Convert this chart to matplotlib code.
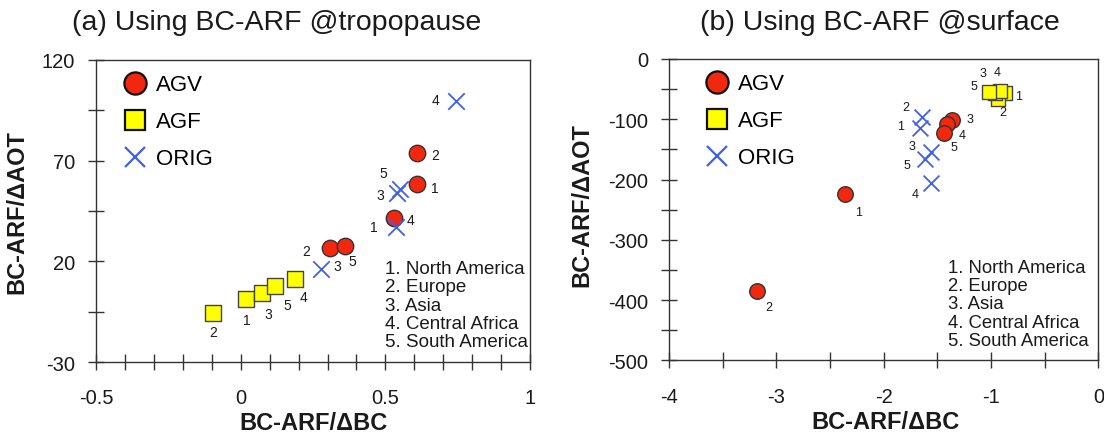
import matplotlib
matplotlib.use("Agg")
import matplotlib.pyplot as plt
from matplotlib.lines import Line2D
from matplotlib.ticker import MultipleLocator

plt.rcParams['font.family'] = ['Liberation Sans', 'DejaVu Sans']
plt.rcParams['axes.unicode_minus'] = False

regions = ['1', '2', '3', '4', '5']
region_names = ['1. North America', '2. Europe', '3. Asia',
                '4. Central Africa', '5. South America']

# (a) BC-ARF at the tropopause
trop_agv_x = [0.609, 0.609, 0.310, 0.529, 0.359]
trop_agv_y = [58.6, 73.7, 26.5, 41.7, 27.6]
trop_agf_x = [0.017, -0.097, 0.075, 0.186, 0.118]
trop_agf_y = [1.5, -5.8, 4.3, 11.1, 7.6]
trop_orig_x = [0.537, 0.279, 0.540, 0.745, 0.552]
trop_orig_y = [37.2, 16.0, 54.1, 99.6, 56.1]

# (b) BC-ARF at the surface
surf_agv_x = [-2.357, -3.184, -1.361, -1.411, -1.442]
surf_agv_y = [-224, -385, -101, -107, -122]
surf_agf_x = [-0.874, -0.940, -0.967, -0.921, -1.023]
surf_agf_y = [-57, -66, -56, -53, -55]
surf_orig_x = [-1.659, -1.644, -1.556, -1.556, -1.619]
surf_orig_y = [-115, -96, -154, -206, -166]

# label offsets (pixels) for the region numbers next to each marker
trop_agv_off = [(18, -4), (18, -2), (7, -18), (17, -2), (8, -15)]
trop_agf_off = [(1, -21), (1, -19), (6, -21), (9, -18), (12, -19)]
trop_orig_off = [(-22, 0), (-15, 18), (-17, -2), (-21, 1), (-17, 16)]
surf_agv_off = [(13, -18), (12, -16), (18, 1), (15, -11), (10, -14)]
surf_agf_off = [(14, -3), (5, -13), (-12, 20), (-2, 19), (-15, 6)]
surf_orig_off = [(-20, 2), (-16, 10), (-19, 6), (-16, -11), (-18, -6)]

RED = '#f2270f'
YEL = '#ffff00'
BLUE = '#4060e8'
TXT = '#1a1a1a'

fig = plt.figure(figsize=(11.04, 4.35), dpi=100)
ax1 = fig.add_axes([0.0870, 0.1655, 0.3931, 0.6943])
ax2 = fig.add_axes([0.6060, 0.1690, 0.3890, 0.6931])


def draw_panel(ax, agv, agf, orig, offs, msize, lsize, leg_x):
    ax.scatter(agf[0], agf[1], s=msize[1], marker='s', c=YEL,
               edgecolors='#444444', linewidths=1.0, zorder=3)
    ax.scatter(agv[0], agv[1], s=msize[0], marker='o', c=RED,
               edgecolors='#333333', linewidths=1.0, zorder=4)
    ax.scatter(orig[0], orig[1], s=msize[2], marker='x', c=BLUE,
               linewidths=1.3, zorder=5)
    for (xs, ys), off in zip([agv, agf, orig], offs):
        for x, y, lab, o in zip(xs, ys, regions, off):
            ax.annotate(lab, (x, y), xytext=o, textcoords='offset pixels',
                        ha='center', va='center', fontsize=lsize,
                        color=TXT, zorder=6)

    handles = [
        Line2D([], [], ls='', marker='o', ms=16, mfc=RED, mec='#111111', mew=1.6),
        Line2D([], [], ls='', marker='s', ms=15, mfc=YEL, mec='#111111', mew=1.6),
        Line2D([], [], ls='', marker='x', ms=15, mec=BLUE, mew=1.6),
    ]
    ax.legend(handles, ['AGV', 'AGF', 'ORIG'], loc='upper left',
              bbox_to_anchor=(leg_x, 1.0), frameon=False, fontsize=16,
              handlelength=1.6, handletextpad=0.15, labelspacing=0.72,
              borderaxespad=0.25)

    ax.tick_params(which='both', direction='inout', top=False, right=False,
                   color='#333333', labelcolor=TXT, labelsize=14.5)
    ax.tick_params(which='both', length=12, width=1.0)
    ax.tick_params(axis='y', pad=9)
    ax.tick_params(axis='x', pad=13)
    for sp in ax.spines.values():
        sp.set_color('#333333')
        sp.set_linewidth(1.0)
    ax.set_xlabel('BC-ARF/ΔBC', fontsize=17, fontweight='bold', color=TXT)
    ax.set_ylabel('BC-ARF/ΔAOT', fontsize=17, fontweight='bold', color=TXT)


draw_panel(ax1, (trop_agv_x, trop_agv_y), (trop_agf_x, trop_agf_y),
           (trop_orig_x, trop_orig_y),
           [trop_agv_off, trop_agf_off, trop_orig_off], (140, 140, 140), 10,
           0.015)
ax1.set_xlim(-0.5, 1.0)
ax1.set_ylim(-30, 120)
ax1.set_xticks([-0.5, 0, 0.5, 1])
ax1.set_xticklabels(['-0.5', '0', '0.5', '1'])
ax1.xaxis.set_minor_locator(MultipleLocator(0.1))
ax1.set_yticks([-30, 20, 70, 120])
ax1.set_yticks([-5, 45, 95], minor=True)
ax1.text(0.666, 0.338, '\n'.join(region_names), transform=ax1.transAxes,
         fontsize=13.5, color=TXT, va='top', ha='left', linespacing=1.1,
         zorder=2)
ax1.xaxis.set_label_coords(0.5, -0.163)
ax1.yaxis.set_label_coords(-0.155, 0.5)

draw_panel(ax2, (surf_agv_x, surf_agv_y), (surf_agf_x, surf_agf_y),
           (surf_orig_x, surf_orig_y),
           [surf_agv_off, surf_agf_off, surf_orig_off], (125, 95, 130), 9,
           0.036)
ax2.set_xlim(-4, 0)
ax2.set_ylim(-500, 0)
ax2.set_xticks([-4, -3, -2, -1, 0])
ax2.xaxis.set_minor_locator(MultipleLocator(0.5))
ax2.set_yticks([-500, -400, -300, -200, -100, 0])
ax2.yaxis.set_minor_locator(MultipleLocator(50))
ax2.text(0.650, 0.337, '\n'.join(region_names), transform=ax2.transAxes,
         fontsize=13.3, color=TXT, va='top', ha='left', linespacing=1.1,
         zorder=2)
ax2.xaxis.set_label_coords(0.505, -0.163)
ax2.yaxis.set_label_coords(-0.177, 0.52)

fig.text(0.251, 0.946, '(a) Using BC-ARF @tropopause', fontsize=20.5,
         ha='center', va='center', color=TXT)
fig.text(0.797, 0.946, '(b) Using BC-ARF @surface', fontsize=20.5,
         ha='center', va='center', color=TXT)

fig.savefig('out.png', dpi=100)
